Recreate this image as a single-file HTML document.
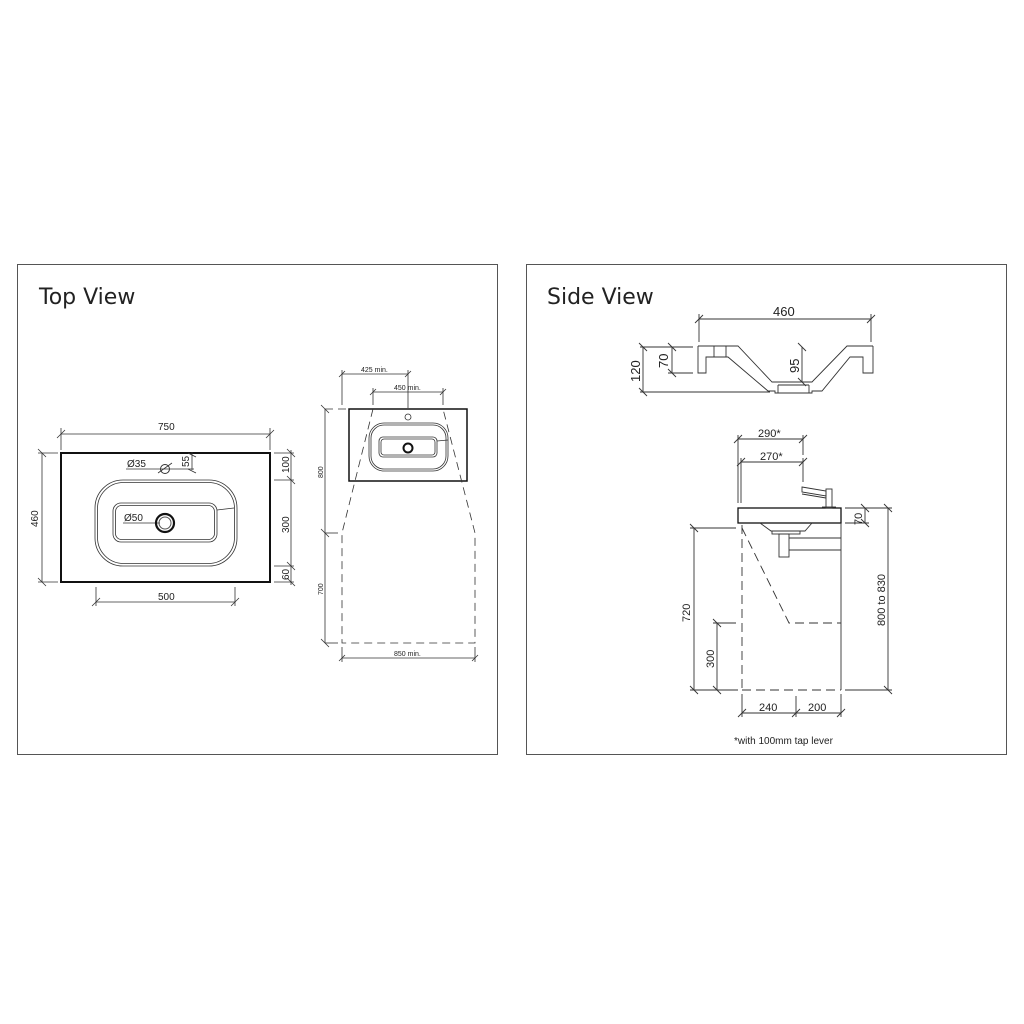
<!DOCTYPE html>
<html><head><meta charset="utf-8"><style>
html,body{margin:0;padding:0;background:#fff;}
svg{display:block;}
text{font-family:"Liberation Sans",sans-serif;fill:#222;}
</style></head><body>
<svg width="1024" height="1024" viewBox="0 0 1024 1024" xmlns="http://www.w3.org/2000/svg">
<g fill="none" stroke="#555" stroke-width="1">
<rect x="17.5" y="264.5" width="480" height="490"/>
<rect x="526.5" y="264.5" width="480" height="490"/>
</g>
<text x="39" y="304" font-size="22" style="font-family:'DejaVu Sans','Liberation Sans',sans-serif">Top View</text>
<text x="547" y="304" font-size="22" style="font-family:'DejaVu Sans','Liberation Sans',sans-serif">Side View</text>

<g fill="none" stroke="#333" stroke-width="0.8">
<rect x="61" y="453" width="209" height="129" stroke="#111" stroke-width="2"/>
<line x1="61" y1="434" x2="270" y2="434"/>
<line x1="61" y1="428" x2="61" y2="450"/><line x1="270" y1="428" x2="270" y2="450"/>
<line x1="57" y1="438" x2="65" y2="430"/><line x1="266" y1="438" x2="274" y2="430"/>
<line x1="42" y1="453" x2="42" y2="582"/>
<line x1="38" y1="453" x2="58" y2="453"/><line x1="38" y1="582" x2="58" y2="582"/>
<line x1="38" y1="449" x2="46" y2="457"/><line x1="38" y1="578" x2="46" y2="586"/>
<line x1="96" y1="602" x2="235" y2="602"/>
<line x1="96" y1="587" x2="96" y2="606"/><line x1="235" y1="587" x2="235" y2="606"/>
<line x1="92" y1="606" x2="100" y2="598"/><line x1="231" y1="606" x2="239" y2="598"/>
<line x1="291" y1="450" x2="291" y2="585"/>
<line x1="274" y1="453" x2="294" y2="453"/><line x1="274" y1="480" x2="294" y2="480"/>
<line x1="274" y1="566" x2="294" y2="566"/><line x1="274" y1="582" x2="294" y2="582"/>
<line x1="287" y1="449" x2="295" y2="457"/><line x1="287" y1="476" x2="295" y2="484"/>
<line x1="287" y1="562" x2="295" y2="570"/><line x1="287" y1="578" x2="295" y2="586"/>
<line x1="192" y1="452" x2="192" y2="470"/>
<line x1="188" y1="453" x2="196" y2="457"/><line x1="188" y1="469" x2="196" y2="473"/>
<line x1="158" y1="469" x2="194" y2="469"/>
<rect x="95" y="480" width="142" height="86" rx="28"/>
<rect x="97.5" y="482.5" width="137" height="81" rx="26"/>
<rect x="113" y="503" width="104" height="39" rx="8"/>
<rect x="115.5" y="505.5" width="99" height="34" rx="6"/>
<line x1="217" y1="510" x2="234" y2="508"/>
<line x1="123" y1="523" x2="160" y2="523"/>
<line x1="126" y1="469" x2="158" y2="469"/>
<line x1="158" y1="473" x2="172" y2="463"/>
</g>
<circle cx="165" cy="523" r="9" fill="none" stroke="#111" stroke-width="2.2"/>
<circle cx="165" cy="523" r="6" fill="none" stroke="#555" stroke-width="1"/>
<circle cx="165" cy="469" r="4.5" fill="none" stroke="#333" stroke-width="1"/>
<g font-size="10">
<text x="158" y="430">750</text>
<text x="158" y="600">500</text>
<text x="127" y="467">Ø35</text>
<text x="124" y="521">Ø50</text>
<text transform="translate(38,527) rotate(-90)">460</text>
<text transform="translate(289,473) rotate(-90)">100</text>
<text transform="translate(289,533) rotate(-90)">300</text>
<text transform="translate(289,580) rotate(-90)">60</text>
<text transform="translate(189,467) rotate(-90)">55</text>
</g>

<g fill="none" stroke="#333" stroke-width="0.8">
<rect x="349" y="409" width="118" height="72" stroke="#111" stroke-width="1.5"/>
<rect x="369" y="423" width="79" height="48" rx="15"/>
<rect x="371" y="425" width="75" height="44" rx="13"/>
<rect x="379" y="437" width="58" height="20" rx="4"/>
<rect x="381" y="439" width="54" height="16" rx="3"/>
<line x1="437" y1="441" x2="448" y2="440"/>
<circle cx="408" cy="417" r="3"/>
<g stroke-dasharray="8,5">
<polyline points="373,409 342,533 342,643 475,643 475,533 443,409"/>
<line x1="325" y1="409" x2="349" y2="409"/>
</g>
<line x1="325" y1="409" x2="325" y2="643"/>
<line x1="321" y1="405" x2="329" y2="413"/><line x1="321" y1="529" x2="329" y2="537"/><line x1="321" y1="639" x2="329" y2="647"/>
<line x1="325" y1="533" x2="338" y2="533"/>
<line x1="325" y1="643" x2="338" y2="643"/>
<line x1="342" y1="374" x2="408" y2="374"/>
<line x1="342" y1="370" x2="342" y2="405"/><line x1="408" y1="370" x2="408" y2="408"/>
<line x1="339" y1="377" x2="345" y2="371"/><line x1="405" y1="377" x2="411" y2="371"/>
<line x1="373" y1="392" x2="443" y2="392"/>
<line x1="373" y1="388" x2="373" y2="405"/><line x1="443" y1="388" x2="443" y2="405"/>
<line x1="370" y1="395" x2="376" y2="389"/><line x1="440" y1="395" x2="446" y2="389"/>
<line x1="342" y1="658" x2="475" y2="658"/>
<line x1="342" y1="647" x2="342" y2="662"/><line x1="475" y1="647" x2="475" y2="662"/>
<line x1="339" y1="661" x2="345" y2="655"/><line x1="472" y1="661" x2="478" y2="655"/>
</g>
<circle cx="408" cy="448" r="4.5" fill="none" stroke="#111" stroke-width="2"/>
<g font-size="7">
<text x="361" y="372">425 min.</text>
<text x="394" y="390">450 min.</text>
<text x="394" y="656">850 min.</text>
<text transform="translate(323,478) rotate(-90)">800</text>
<text transform="translate(323,595) rotate(-90)">700</text>
</g>

<g fill="none" stroke="#333" stroke-width="0.9">
<line x1="699" y1="319" x2="871" y2="319"/>
<line x1="699" y1="314" x2="699" y2="342"/><line x1="871" y1="314" x2="871" y2="342"/>
<line x1="695" y1="323" x2="703" y2="315"/><line x1="867" y1="323" x2="875" y2="315"/>
<path d="M698,346 H738 L772,382 H812 L847,346 H873"/>
<path d="M698,346 V373 H706 V357 H728 L768,391 H775 V393 H812 V391 L822,391 L850,357 H863 V373 H873 V346"/>
<line x1="714" y1="346" x2="714" y2="357"/><line x1="726" y1="346" x2="726" y2="357"/>
<line x1="778" y1="385" x2="809" y2="385"/>
<line x1="778" y1="385" x2="778" y2="393"/><line x1="809" y1="385" x2="809" y2="393"/>
<line x1="643" y1="347" x2="643" y2="392"/>
<line x1="639" y1="343" x2="647" y2="351"/><line x1="639" y1="388" x2="647" y2="396"/>
<line x1="672" y1="347" x2="672" y2="373"/>
<line x1="668" y1="343" x2="676" y2="351"/><line x1="668" y1="369" x2="676" y2="377"/>
<line x1="640" y1="347" x2="693" y2="347"/>
<line x1="668" y1="373" x2="693" y2="373"/>
<line x1="640" y1="392" x2="770" y2="392"/>
<line x1="802" y1="347" x2="802" y2="382"/>
<line x1="798" y1="343" x2="806" y2="351"/><line x1="798" y1="378" x2="806" y2="386"/>
</g>
<g font-size="13">
<text x="773" y="316">460</text>
<text transform="translate(640,382) rotate(-90)">120</text>
<text transform="translate(668,368) rotate(-90)">70</text>
<text transform="translate(799,373) rotate(-90)">95</text>
</g>

<g fill="none" stroke="#333" stroke-width="0.9">
<line x1="738" y1="439" x2="803" y2="439"/>
<line x1="738" y1="435" x2="738" y2="503"/><line x1="803" y1="435" x2="803" y2="455"/>
<line x1="734" y1="443" x2="742" y2="435"/><line x1="799" y1="443" x2="807" y2="435"/>
<line x1="741" y1="462" x2="803" y2="462"/>
<line x1="741" y1="458" x2="741" y2="503"/><line x1="803" y1="458" x2="803" y2="482"/>
<line x1="737" y1="466" x2="745" y2="458"/><line x1="799" y1="466" x2="807" y2="458"/>
<rect x="738" y="508" width="103" height="15" stroke="#111" stroke-width="1.3"/>
<path d="M760,523 L771,531 H805 L812,523"/>
<rect x="772" y="531" width="28" height="3"/>
<rect x="779" y="534" width="10" height="23"/>
<line x1="789" y1="538" x2="841" y2="538"/><line x1="789" y1="550" x2="841" y2="550"/>
<path d="M802,487 L826,491 V496 L802,492 Z"/>
<path d="M802,494 L826,498"/>
<rect x="826" y="489" width="6" height="19"/>
<line x1="822" y1="507" x2="836" y2="507"/>
<line x1="841" y1="523" x2="841" y2="690"/>
<g stroke-dasharray="9,5">
<line x1="742" y1="525" x2="742" y2="690"/>
<polyline points="742,528 789,623 841,623"/>
<line x1="742" y1="690" x2="841" y2="690"/>
</g>
<line x1="690" y1="528" x2="736" y2="528"/>
<line x1="694" y1="528" x2="694" y2="690"/>
<line x1="690" y1="524" x2="698" y2="532"/><line x1="690" y1="686" x2="698" y2="694"/>
<line x1="690" y1="690" x2="738" y2="690"/>
<line x1="713" y1="623" x2="736" y2="623"/>
<line x1="717" y1="623" x2="717" y2="690"/>
<line x1="713" y1="619" x2="721" y2="627"/><line x1="713" y1="686" x2="721" y2="694"/>
<line x1="845" y1="508" x2="892" y2="508"/>
<line x1="845" y1="523" x2="869" y2="523"/>
<line x1="845" y1="690" x2="892" y2="690"/>
<line x1="865" y1="508" x2="865" y2="523"/>
<line x1="861" y1="504" x2="869" y2="512"/><line x1="861" y1="519" x2="869" y2="527"/>
<line x1="888" y1="508" x2="888" y2="690"/>
<line x1="884" y1="504" x2="892" y2="512"/><line x1="884" y1="686" x2="892" y2="694"/>
<line x1="742" y1="713" x2="841" y2="713"/>
<line x1="742" y1="694" x2="742" y2="717"/><line x1="796" y1="696" x2="796" y2="717"/><line x1="841" y1="694" x2="841" y2="717"/>
<line x1="738" y1="717" x2="746" y2="709"/><line x1="792" y1="717" x2="800" y2="709"/><line x1="837" y1="717" x2="845" y2="709"/>
</g>
<g font-size="11">
<text x="758" y="437">290*</text>
<text x="760" y="460">270*</text>
<text x="759" y="711">240</text>
<text x="808" y="711">200</text>
<text transform="translate(690,622) rotate(-90)">720</text>
<text transform="translate(714,668) rotate(-90)">300</text>
<text transform="translate(862,525) rotate(-90)">70</text>
<text transform="translate(885,626) rotate(-90)">800 to 830</text>
<text x="734" y="744" font-size="10">*with 100mm tap lever</text>
</g>
</svg>
</body></html>
